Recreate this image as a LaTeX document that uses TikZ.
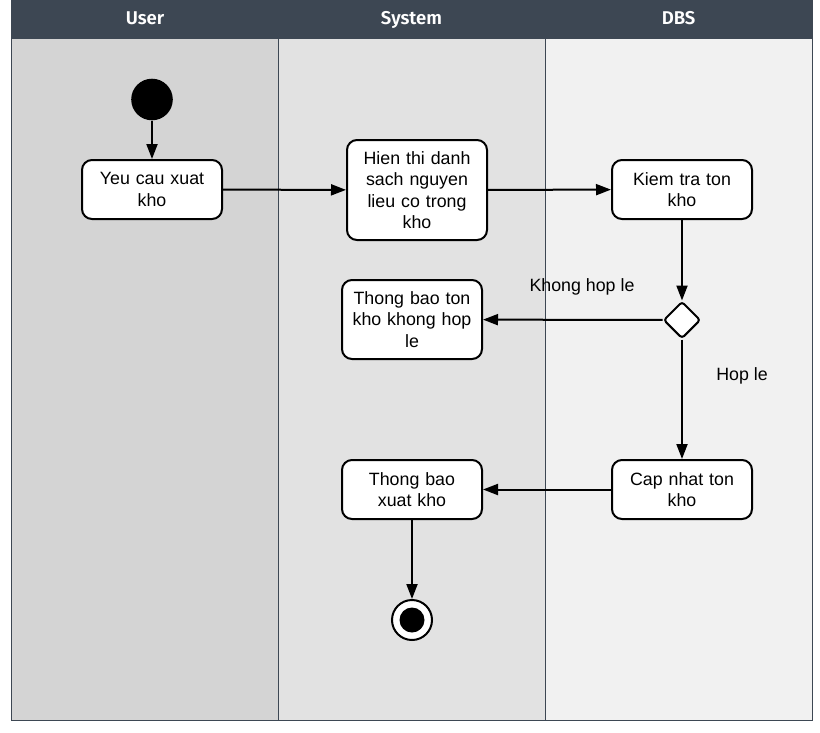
\documentclass[tikz,border=0pt]{standalone}
\usepackage{fontspec}
\setmainfont{Liberation Sans}
\newfontfamily\headfont{Fira Sans SemiBold}
\usetikzlibrary{arrows.meta,shapes.geometric}
\definecolor{hdr}{HTML}{3D4753}
\definecolor{laneA}{HTML}{D4D4D4}
\definecolor{laneB}{HTML}{E2E2E2}
\definecolor{laneC}{HTML}{F1F1F1}
\tikzset{
  act/.style={draw=black, line width=2pt, fill=white, rounded corners=10pt,
    minimum width=140pt, align=center, text width=134pt,
    font=\fontsize{17.8}{21.5}\selectfont, inner sep=0pt},
  flow/.style={line width=2pt, -{Triangle[length=15pt,width=11pt]}},
  lbl/.style={font=\fontsize{17.8}{21.5}\selectfont},
  hd/.style={text=white, anchor=base, font=\headfont\fontsize{18.5}{20}\selectfont},
}
\begin{document}
\begin{tikzpicture}[x=1pt,y=-1pt]
\useasboundingbox (0,0) rectangle (820,732);
% lanes
\fill[laneA] (11.5,38.7) rectangle (278,720.3);
\fill[laneB] (278,38.7) rectangle (545,720.3);
\fill[laneC] (545,38.7) rectangle (812.3,720.3);
\fill[hdr] (11.5,0) rectangle (812.3,38.7);
\draw[hdr, line width=1pt] (278,38.7) -- (278,720.3);
\draw[hdr, line width=1pt] (545,38.7) -- (545,720.3);
\draw[hdr, line width=1.6pt] (11.5,0) -- (11.5,720.3) -- (812.3,720.3) -- (812.3,0);
\node[hd] (hUser) at (145,24.5) {User};
\node[hd] (hSys) at (411.5,24.5) {System};
\node[hd] (hDbs) at (678.5,24.5) {DBS};
% nodes
\node[circle, fill=black, minimum size=41.6pt, inner sep=0pt] (start) at (152,99.5) {};
\node[act, minimum height=59pt] (yeu) at (152,189.5) {Yeu cau xuat\\kho};
\node[act, minimum height=100pt] (hien) at (417,190) {Hien thi danh\\sach nguyen\\lieu co trong\\kho};
\node[act, minimum height=59pt] (kiem) at (682,189.5) {Kiem tra ton\\kho};
\node[diamond, draw=black, line width=2pt, fill=white, rounded corners=3pt, minimum width=37pt, minimum height=37pt, inner sep=0pt] (dec) at (682,320) {};
\node[act, minimum height=79pt] (tbk) at (412,319.5) {Thong bao ton\\kho khong hop\\le};
\node[act, minimum height=59pt] (cap) at (682,489.5) {Cap nhat ton\\kho};
\node[act, minimum height=59pt] (tbx) at (412,489.5) {Thong bao\\xuat kho};
\node[circle, draw=black, line width=2pt, fill=white, minimum size=40pt, inner sep=0pt] (end) at (412,620) {};
\node[circle, fill=black, minimum size=25pt, inner sep=0pt] (endin) at (end.center) {};
% labels
\node[lbl] (lk) at (582,287) {Khong hop le};
\node[lbl] (lh) at (742,376) {Hop le};
% flows
\draw[flow] (start) -- (yeu);
\draw[flow] (yeu) -- (hien);
\draw[flow] (hien) -- (kiem);
\draw[flow] (kiem) -- (dec);
\draw[flow] (dec) -- (tbk);
\draw[flow] (dec) -- (cap);
\draw[flow] (cap) -- (tbx);
\draw[flow] (tbx) -- (end);
\end{tikzpicture}
\end{document}
